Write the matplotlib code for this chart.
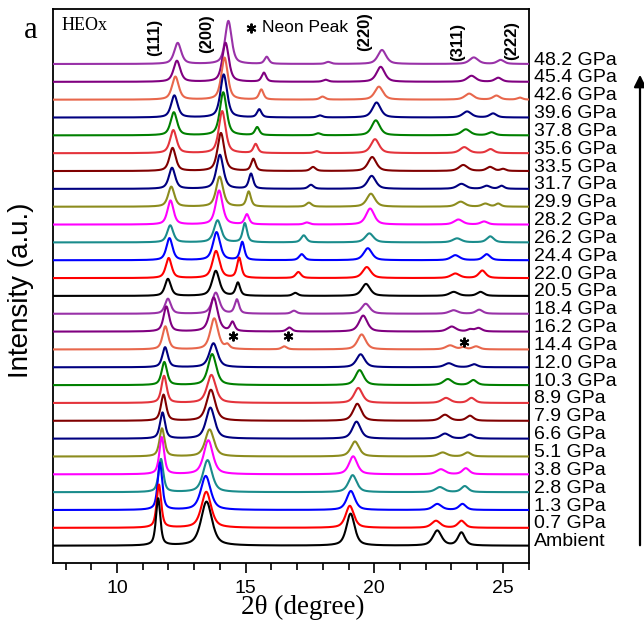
import numpy as np
import matplotlib
matplotlib.use("Agg")
import matplotlib.pyplot as plt

# pressures, bottom (ambient) to top
labels = ["Ambient", "0.7 GPa", "1.3 GPa", "2.8 GPa", "3.8 GPa", "5.1 GPa", "6.6 GPa",
          "7.9 GPa", "8.9 GPa", "10.3 GPa", "12.0 GPa", "14.4 GPa", "16.2 GPa", "18.4 GPa",
          "20.5 GPa", "22.0 GPa", "24.4 GPa", "26.2 GPa", "28.2 GPa", "29.9 GPa", "31.7 GPa",
          "33.5 GPa", "35.6 GPa", "37.8 GPa", "39.6 GPa", "42.6 GPa", "45.4 GPa", "48.2 GPa"]

# HEOx reflections: position (2theta, deg) and height (a.u.) read per pattern
pos_111 = [11.60, 11.63, 11.67, 11.71, 11.74, 11.75, 11.77, 11.81, 11.83, 11.84, 11.87, 11.88, 11.92, 11.98,
           11.98, 12.01, 12.04, 12.07, 12.08, 12.11, 12.14, 12.16, 12.19, 12.21, 12.23, 12.27, 12.33, 12.36]
h_111 = [47, 43, 47, 33, 37, 28, 26, 26, 27, 23, 20, 23, 25, 15,
         17, 20, 22, 17, 24, 20, 21, 23, 23, 23, 22, 23, 21, 21]
pos_200 = [13.48, 13.47, 13.45, 13.52, 13.55, 13.60, 13.63, 13.65, 13.67, 13.70, 13.75, 13.78, 13.76, 13.84,
           13.84, 13.85, 13.87, 13.91, 13.97, 13.99, 14.00, 14.04, 14.09, 14.13, 14.15, 14.18, 14.22, 14.33]
h_200 = [44, 36, 34, 32, 34, 27, 31, 31, 28, 31, 24, 31, 34, 21,
         25, 27, 28, 22, 34, 30, 34, 38, 42, 43, 43, 42, 39, 43]
pos_220 = [19.08, 19.05, 19.09, 19.16, 19.18, 19.25, 19.31, 19.34, 19.38, 19.43, 19.47, 19.51, 19.57, 19.67,
           19.68, 19.71, 19.75, 19.81, 19.84, 19.87, 19.90, 19.92, 20.03, 20.06, 20.09, 20.18, 20.25, 20.30]
h_220 = [32, 22, 19, 17, 18, 15, 17, 17, 15, 15, 13, 15, 16, 10,
         12, 11, 12, 9, 16, 13, 13, 14, 14, 15, 15, 13, 15, 14]
pos_311 = [22.45, 22.40, 22.45, 22.55, 22.59, 22.66, 22.75, 22.75, 22.79, 22.86, 22.90, 22.95, 23.01, 23.08,
           23.09, 23.15, 23.15, 23.22, 23.27, 23.36, 23.39, 23.46, 23.50, 23.56, 23.61, 23.69, 23.78, 23.87]
h_311 = [15, 7, 6, 5, 5, 4, 5, 6, 5, 6, 4, 4, 5, 3.5,
         4, 4.5, 5, 4, 5, 5, 5, 6, 6, 6, 6, 6, 6, 6.5]
pos_222 = [23.39, 23.39, 23.43, 23.52, 23.56, 23.63, 23.72, 23.72, 23.78, 23.85, 23.88, 23.96, 24.05, 24.08,
           24.13, 24.20, 24.37, 24.51, 24.27, 24.32, 24.37, 24.50, 24.52, 24.56, 24.62, 24.75, 24.82, 24.91]
h_222 = [13, 7, 6, 6, 6, 4, 4, 5, 5, 5, 3, 3, 3.5, 4,
         4, 7.5, 6, 6, 3, 3, 3, 4, 4, 3, 4, 4, 4, 4]

# neon pressure-medium peaks (zero height before 14.4 GPa)
ne1_pos = [0] * 11 + [14.29, 14.49, 14.66, 14.70, 14.75, 14.87, 14.97, 15.05, 15.12, 15.21, 15.30,
                      15.39, 15.45, 15.53, 15.61, 15.71, 15.82]
ne1_h = [0] * 11 + [4, 9, 14, 13, 20, 18, 19, 10, 15, 15, 12, 9, 8, 8, 10, 9, 7]
ne2_pos = [0] * 11 + [16.50, 16.70, 16.88, 16.93, 17.05, 17.18, 17.26, 17.38, 17.46, 17.54, 17.62,
                      17.76, 17.82, 17.89, 17.99, 18.11, 18.21]
ne2_h = [0] * 11 + [3, 4, 3, 3, 6, 6, 7, 2, 4, 4, 4, 2, 2, 2, 3, 2, 2]
ne3_pos = [0] * 11 + [23.46, 23.72, 0, 0, 0, 0, 0, 0, 24.82, 24.95, 25.01, 0, 0, 0, 25.66, 0, 0]
ne3_h = [0] * 11 + [2, 2, 0, 0, 0, 0, 0, 0, 3, 3, 2, 0, 0, 0, 2, 0, 0]

# peak widths (FWHM, deg): 111 broadens and 200 sharpens with pressure
w_111 = [0.20, 0.21, 0.21, 0.22, 0.22, 0.23, 0.23, 0.24, 0.24, 0.25, 0.25, 0.26, 0.26, 0.27,
         0.27, 0.27, 0.28, 0.28, 0.28, 0.29, 0.29, 0.29, 0.30, 0.30, 0.30, 0.31, 0.31, 0.32]
w_200 = [0.50, 0.45, 0.45, 0.42, 0.42, 0.40, 0.40, 0.40, 0.40, 0.38, 0.38, 0.36, 0.36, 0.34,
         0.34, 0.33, 0.33, 0.33, 0.32, 0.32, 0.32, 0.31, 0.31, 0.31, 0.31, 0.30, 0.30, 0.30]

neon_marks_x = [14.50, 16.63, 23.50]
neon_marks_y = [209.7, 209.7, 203.4]

palette = ["#000000", "#ff0000", "#0000ff", "#1a8c8c", "#ff00ff", "#8c8c1e", "#000080",
           "#800000", "#e4343c", "#008000", "#000080", "#e8674c", "#800080", "#9932a8"]

SPACING = 17.84


def pv(x, x0, h, fwhm, eta=0.6):
    if h == 0:
        return np.zeros_like(x)
    u = (x - x0) / fwhm
    return h * (eta / (1 + 4 * u ** 2) + (1 - eta) * np.exp(-4 * np.log(2) * u ** 2))


sans = ["Liberation Sans", "DejaVu Sans"]
serif = ["Liberation Serif", "DejaVu Serif"]

fig = plt.figure(figsize=(6.44, 6.28), dpi=100)
ax = fig.add_axes([0.0818, 0.1035, 0.739, 0.8822])

tt = np.linspace(7.5, 26, 4000)
for i, lab in enumerate(labels):
    y = (pv(tt, pos_111[i], h_111[i], w_111[i]) + pv(tt, pos_200[i], h_200[i], w_200[i])
         + pv(tt, pos_220[i], h_220[i], 0.38) + pv(tt, pos_311[i], h_311[i], 0.40)
         + pv(tt, pos_222[i], h_222[i], 0.32) + pv(tt, ne1_pos[i], ne1_h[i], 0.2)
         + pv(tt, ne2_pos[i], ne2_h[i], 0.24) + pv(tt, ne3_pos[i], ne3_h[i], 0.24))
    base = i * SPACING
    ax.plot(tt, y + base, color=palette[i % len(palette)], lw=1.5, zorder=100 - i)
    ax.annotate(lab, xy=(1.012, base + 4), xycoords=("axes fraction", "data"),
                va="center", ha="left", fontsize=14, family=sans, annotation_clip=False)

ax.plot(neon_marks_x, neon_marks_y, ls="none", marker=(6, 2, 0), ms=7, mew=1.4,
        color="k", zorder=200)

ax.set_xlim(7.5, 26)
ax.set_ylim(-17.3, 536.7)
ax.set_xticks([10, 15, 20, 25])
ax.set_xticks(np.arange(8, 27, 1), minor=True)
ax.set_yticks([])
ax.tick_params(axis="x", which="major", direction="out", length=7, width=1.2, pad=5, labelsize=14)
ax.tick_params(axis="x", which="minor", direction="out", length=5, width=1.2)
for lbl in ax.get_xticklabels():
    lbl.set_family(sans)
for sp in ax.spines.values():
    sp.set_linewidth(1.3)

# header annotations
ax.text(0.019, 0.971, "HEOx", transform=ax.transAxes, family=serif, fontsize=13,
        ha="left", va="center")
for txt, xa, ya in [("(111)", 0.215, 0.948), ("(200)", 0.324, 0.955), ("(220)", 0.656, 0.960),
                    ("(311)", 0.851, 0.940), ("(222)", 0.965, 0.944)]:
    ax.text(xa, ya, txt, transform=ax.transAxes, rotation=90, ha="center", va="center",
            fontsize=12, fontweight="bold", family=sans)
ax.plot([0.4166], [0.9657], transform=ax.transAxes, ls="none", marker=(6, 2, 0), ms=7,
        mew=1.4, color="k", clip_on=False)
ax.text(0.4397, 0.9657, "Neon Peak", transform=ax.transAxes, ha="left", va="center",
        fontsize=12.5, family=sans)

fig.text(0.048, 0.952, "a", family=serif, fontsize=22, ha="center", va="center")
fig.text(303 / 644, 1 - 607 / 628, "2\u03b8 (degree)", family=serif, fontsize=19.5,
         ha="center", va="center")
fig.text(21 / 644, 1 - 290 / 628, "Intensity (a.u.)", family=sans, fontsize=20,
         rotation=90, ha="center", va="center")

ax.annotate("", xy=(640 / 644, 1 - 72 / 628), xytext=(640 / 644, 1 - 548 / 628),
            xycoords="figure fraction", textcoords="figure fraction",
            arrowprops=dict(arrowstyle="-|>", lw=1.6, color="k", mutation_scale=18),
            annotation_clip=False)

fig.savefig("out.png", dpi=100)
